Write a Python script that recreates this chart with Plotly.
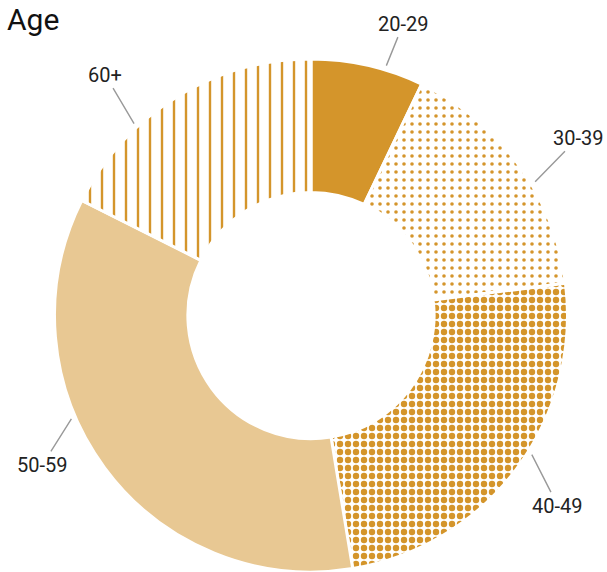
import math
import plotly.graph_objects as go

# Age distribution (share of respondents, %)
age_groups = ["20-29", "30-39", "40-49", "50-59", "60+"]
shares = [7.1, 15.9, 24.4, 35.0, 17.6]

GOLD = "#D4952B"
SAND = "#E8C893"

# per-slice fill styles
fill_colors = [GOLD, "white", "white", SAND, "white"]
pattern_shapes = ["", ".", ".", "", "|"]
pattern_sizes = [8, 8, 8, 8, 12]
pattern_solidity = [0.3, 0.16, 0.5, 0.3, 0.2]

# label placement tweaks (degrees off slice centre, text offset in px)
label_angle_shift = [4, 5, -4.5, 13, -11]
label_offsets = [(17, -42), (43, -44), (26, 51), (-29, 46), (-29, -49)]

W, H = 607, 572
CX, CY, R = 311, 315.5, 256.5   # pie centre / radius in px (top-left origin)
R_LEAD = 261

fig = go.Figure(
    go.Pie(
        labels=age_groups,
        values=shares,
        sort=False,
        direction="clockwise",
        rotation=0,
        hole=0.48,
        textinfo="none",
        hoverinfo="label+percent",
        showlegend=False,
        marker=dict(
            colors=fill_colors,
            line=dict(color="white", width=3),
            pattern=dict(
                shape=pattern_shapes,
                fgcolor=GOLD,
                fgopacity=1,
                bgcolor="white",
                size=pattern_sizes,
                solidity=pattern_solidity,
                fillmode="overlay",
            ),
        ),
        domain=dict(x=[(CX - R) / W, (CX + R) / W], y=[0, 2 * R / H]),
    )
)

# leader lines + outside labels
total = sum(shares)
cum = 0.0
annotations = []
for name, v, shift, (ox, oy) in zip(age_groups, shares, label_angle_shift, label_offsets):
    mid = (cum + v / 2) / total * 360 + shift
    cum += v
    th = math.radians(mid)
    px = CX + R_LEAD * math.sin(th)
    py = CY - R_LEAD * math.cos(th)
    annotations.append(
        dict(
            x=px / W, y=1 - py / H, xref="paper", yref="paper",
            text=name, showarrow=True, arrowhead=0, arrowwidth=1.4,
            arrowcolor="#999999", ax=ox, ay=oy, standoff=0,
            font=dict(family="Roboto, Arial, sans-serif", size=20, color="#222222"),
        )
    )

annotations.append(
    dict(
        x=0.008, y=1.0, xref="paper", yref="paper", xanchor="left", yanchor="top",
        text="Age", showarrow=False,
        font=dict(family="Roboto, Arial, sans-serif", size=30, color="#111111"),
    )
)

fig.update_layout(
    width=W, height=H,
    margin=dict(l=0, r=0, t=0, b=0),
    paper_bgcolor="white", plot_bgcolor="white",
    annotations=annotations,
)

fig.write_html("out.html")
